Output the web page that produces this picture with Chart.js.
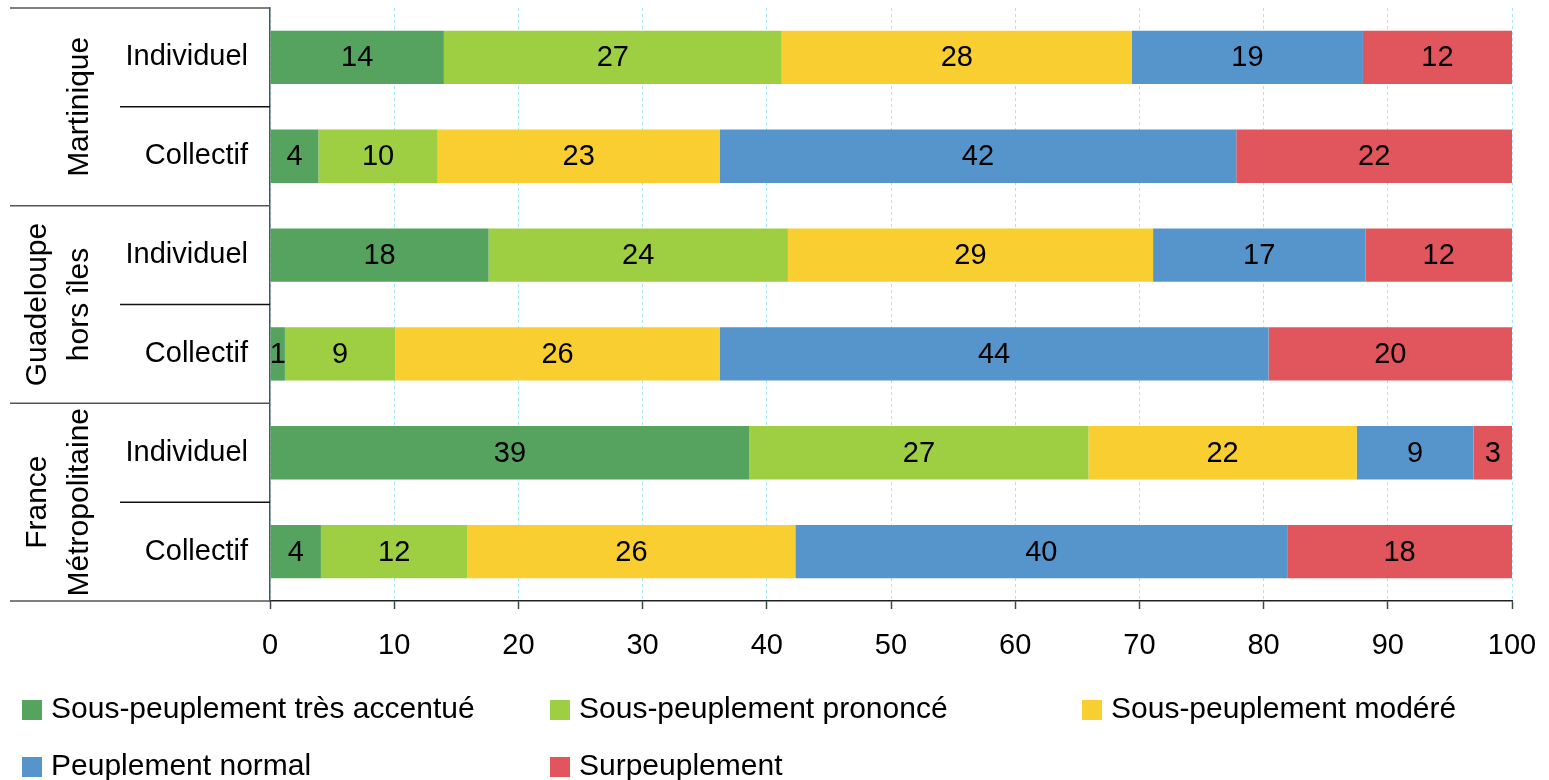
<!DOCTYPE html>
<html>
<head>
<meta charset="utf-8">
<script src="https://cdn.jsdelivr.net/npm/chart.js@4/dist/chart.umd.min.js"></script>
<style>
  html, body { margin: 0; padding: 0; background: #fff; }
  #wrap { position: relative; width: 1549px; height: 780px; }
</style>
</head>
<body>
<div id="wrap"><canvas id="chart"></canvas></div>
<script>
// rows, top to bottom
var rowLabels = ['Individuel', 'Collectif', 'Individuel', 'Collectif', 'Individuel', 'Collectif'];
var groups = [['Martinique'], ['Guadeloupe', 'hors îles'], ['France', 'Métropolitaine']];

var seriesNames = ['Sous-peuplement très accentué', 'Sous-peuplement prononcé', 'Sous-peuplement modéré',
                   'Peuplement normal', 'Surpeuplement'];
var tresAccentue = [14.0, 3.9, 17.6, 1.2, 38.6, 4.1];
var prononce     = [27.2, 9.6, 24.1, 8.9, 27.3, 11.8];
var modere       = [28.2, 22.7, 29.4, 26.1, 21.6, 26.4];
var normal       = [18.6, 41.6, 17.1, 44.2, 9.4, 39.6];
var surpeuplement = [12.0, 22.2, 11.8, 19.6, 3.1, 18.1];

var xTicks = [0, 10, 20, 30, 40, 50, 60, 70, 80, 90, 100];

var colors = ['#55a35e', '#9ecf43', '#f9ce31', '#5695cb', '#e1565c'];
var FONT = "'Liberation Sans', Arial, sans-serif";

var allSeries = [tresAccentue, prononce, modere, normal, surpeuplement];
var datasets = [];
for (var i = 0; i < allSeries.length; i++) {
    datasets.push({
        label: seriesNames[i],
        data: allSeries[i],
        backgroundColor: colors[i],
        borderWidth: 0,
        categoryPercentage: 1,
        barPercentage: 0.54
    });
}

var extras = {
    id: 'extras',
    afterDraw: function(chart) {
        var ctx = chart.ctx;
        var area = chart.chartArea;
        var ys = chart.scales.y;
        ctx.save();

        // values inside the bars
        ctx.fillStyle = '#000';
        ctx.font = '29px ' + FONT;
        ctx.textAlign = 'center';
        ctx.textBaseline = 'middle';
        chart.data.datasets.forEach(function(ds, d) {
            var meta = chart.getDatasetMeta(d);
            meta.data.forEach(function(bar, j) {
                ctx.fillText(Math.round(ds.data[j]), (bar.x + bar.base) / 2, bar.y + 1);
            });
        });

        // separators on the left
        function mid(i) { return (ys.getPixelForValue(i) + ys.getPixelForValue(i + 1)) / 2; }
        ctx.lineWidth = 1.5;
        ctx.strokeStyle = '#555';
        var groupLines = [area.top, mid(1), mid(3), area.bottom];
        groupLines.forEach(function(y) {
            ctx.beginPath(); ctx.moveTo(10, y); ctx.lineTo(area.left, y); ctx.stroke();
        });
        ctx.strokeStyle = '#111';
        [mid(0), mid(2), mid(4)].forEach(function(y) {
            ctx.beginPath(); ctx.moveTo(120, y); ctx.lineTo(area.left, y); ctx.stroke();
        });

        // group names, rotated
        ctx.font = '30px ' + FONT;
        ctx.fillStyle = '#000';
        groups.forEach(function(lines, g) {
            var top = groupLines[g], bottom = groupLines[g + 1];
            var cy = (top + bottom) / 2;
            var xs = lines.length == 1 ? [80] : [38, 80];
            lines.forEach(function(t, k) {
                ctx.save();
                ctx.translate(xs[k], cy);
                ctx.rotate(-Math.PI / 2);
                ctx.fillText(t, 0, 0);
                ctx.restore();
            });
        });

        // legend
        var cols = [22, 550, 1082];
        var rowsY = [area.bottom + 109, area.bottom + 166];
        ctx.textAlign = 'left';
        ctx.font = '30px ' + FONT;
        chart.data.datasets.forEach(function(ds, d) {
            var x = cols[d % 3], y = rowsY[Math.floor(d / 3)];
            ctx.fillStyle = ds.backgroundColor;
            ctx.fillRect(x, y - 10, 20, 20);
            ctx.fillStyle = '#000';
            ctx.fillText(ds.label, x + 29, y);
        });
        ctx.restore();
    }
};

var chart = new Chart(document.getElementById('chart').getContext('2d'), {
    type: 'bar',
    data: { labels: rowLabels, datasets: datasets },
    options: {
        indexAxis: 'y',
        responsive: true,
        maintainAspectRatio: false,
        animation: false,
        layout: { padding: { left: 10, top: 8, right: 37, bottom: 0 } },
        plugins: { legend: { display: false }, tooltip: { enabled: false } },
        scales: {
            x: {
                stacked: true,
                min: 0,
                max: 100,
                afterFit: function(scale) { scale.height = 179; scale.paddingLeft = 0; scale.paddingRight = 0; },
                afterBuildTicks: function(scale) {
                    scale.ticks = xTicks.map(function(v) { return { value: v }; });
                },
                grid: { color: '#a9e7f7', lineWidth: 1, tickLength: 8, tickColor: '#444', tickWidth: 1.5 },
                border: { display: true, color: '#222', width: 1.5, dash: [3, 3] },
                ticks: { color: '#000', font: { family: FONT, size: 29 }, padding: 20, maxRotation: 0 }
            },
            y: {
                stacked: true,
                afterFit: function(scale) { scale.width = 260; scale.paddingTop = 0; scale.paddingBottom = 0; },
                grid: { display: false, drawTicks: false },
                border: { display: true, color: '#555', width: 1.5 },
                ticks: { color: '#000', font: { family: FONT, size: 29 }, padding: 22 }
            }
        }
    },
    plugins: [extras]
});
</script>
</body>
</html>
